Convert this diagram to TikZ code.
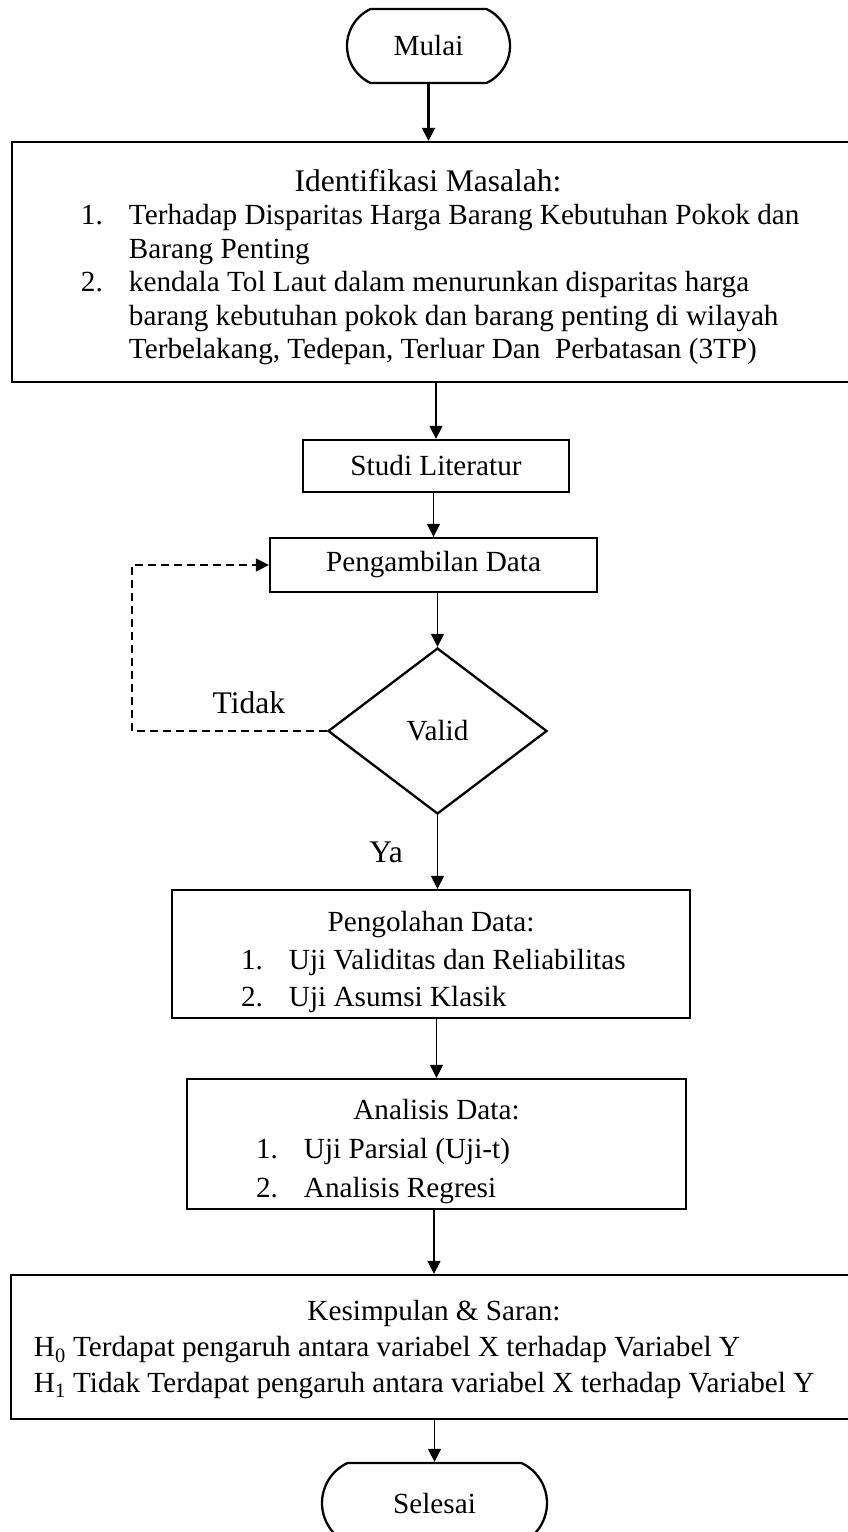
\documentclass[tikz,border=0pt]{standalone}
\usepackage{fontspec}
\setmainfont{Liberation Serif}
\usetikzlibrary{positioning}
\usetikzlibrary{shapes.geometric}
\usetikzlibrary{shapes.misc}
\usetikzlibrary{arrows.meta}

% list layout inside the boxes: number column and text column
\newlength{\numpos}\setlength{\numpos}{69pt}
\newlength{\txtpos}\setlength{\txtpos}{117pt}
\newcommand{\numline}[2]{\noindent\hspace*{\numpos}\makebox[\dimexpr\txtpos-\numpos\relax][l]{#1}#2}
\newcommand{\contline}[1]{\hspace*{\txtpos}#1}
\newcommand{\boxtitle}[2][0pt]{\vspace*{#1}{\centering #2\par}\raggedright}
\newcommand{\basefont}{\fontsize{29.2}{33.5}\selectfont}
\newcommand{\bigfont}{\fontsize{31.5}{33.5}\selectfont}

\begin{document}
\begin{tikzpicture}[x=1pt, y=-1pt, font=\basefont, line width=1.3pt,
	flow/.style={-{Triangle[length=13pt,width=13pt]}},
	term/.style={draw, line width=2.3pt, rounded rectangle, rounded rectangle arc length=130, inner sep=0pt},
	stepbox/.style={draw, line width=2.3pt, rectangle, inner sep=0pt},
	decision/.style={draw, line width=2.3pt, diamond, minimum width=219pt, minimum height=166pt, inner sep=0pt},
	lbl/.style={inner sep=0pt, font=\bigfont}]
		\useasboundingbox (0,0) rectangle (848,1532);
		\node at (428.5,46) [term, minimum width=163pt, minimum height=74pt] (mulai) {Mulai};
		\node at (433,262) [stepbox, minimum width=842pt, minimum height=240pt] (masalah) {\parbox{842pt}{%
			\boxtitle[10pt]{\bigfont Identifikasi Masalah:\hspace*{10pt}}%
			\numline{1.}{Terhadap Disparitas Harga Barang Kebutuhan Pokok dan}\\
			\contline{Barang Penting}\\
			\numline{2.}{kendala Tol Laut dalam menurunkan disparitas harga}\\
			\contline{barang kebutuhan pokok dan barang penting di wilayah}\\
			\contline{Terbelakang, Tedepan, Terluar Dan~ Perbatasan (3TP)}}};
		\node at (436,466) [stepbox, minimum width=266pt, minimum height=52pt] (studi) {Studi Literatur};
		\node at (433.5,565) [stepbox, minimum width=327pt, minimum height=54pt] (ambil) {Pengambilan Data};
		\node at (437.5,731) [decision] (valid) {Valid};
		\node at (431,954) [stepbox, minimum width=518pt, minimum height=128pt, font=\fontsize{29.2}{37.5}\selectfont] (olah) {\parbox{518pt}{%
			\boxtitle[16pt]{Pengolahan Data:}%
			\numline{1.}{Uji Validitas dan Reliabilitas}\\
			\numline{2.}{Uji Asumsi Klasik}}};
		\node at (436.5,1144) [stepbox, minimum width=499pt, minimum height=130pt, font=\fontsize{29.2}{39}\selectfont] (analisis) {\parbox{499pt}{%
			\boxtitle[16pt]{Analisis Data:}%
			\numline{1.}{Uji Parsial (Uji-t)}\\
			\numline{2.}{Analisis Regresi}}};
		\node at (434,1347) [stepbox, minimum width=846pt, minimum height=144pt, font=\fontsize{29.2}{36}\selectfont] (simpul) {\parbox{846pt}{%
			\boxtitle[6pt]{Kesimpulan \& Saran:}%
			\noindent\hspace*{23pt}H\textsubscript{0} Terdapat pengaruh antara variabel X terhadap Variabel Y\\
			\hspace*{23pt}H\textsubscript{1} Tidak Terdapat pengaruh antara variabel X terhadap Variabel Y}};
		\node at (434.5,1503) [term, minimum width=225pt, minimum height=80pt] (selesai) {Selesai};
		% main line
		\draw [flow, line width=2.3pt] (mulai.south) -- (mulai.south |- masalah.north);
		\foreach \a/\b in {masalah/studi, studi/ambil, ambil/valid, olah/analisis, analisis/simpul, simpul/selesai} {
			\draw [flow] (\b.north |- \a.south) -- (\b.north);
		}
		\draw [flow] (valid.south) -- node [lbl, left=34pt] (ya) {Ya} (valid.south |- olah.north);
		% loop back when the data is not valid
		\coordinate (balik) at (132,0);
		\draw [flow, dash pattern=on 8pt off 5pt] (valid.west) -- node [lbl, pos=0.4, above=17pt] (tidak) {Tidak} (valid.west -| balik) |- (ambil.west);
\end{tikzpicture}
\end{document}
